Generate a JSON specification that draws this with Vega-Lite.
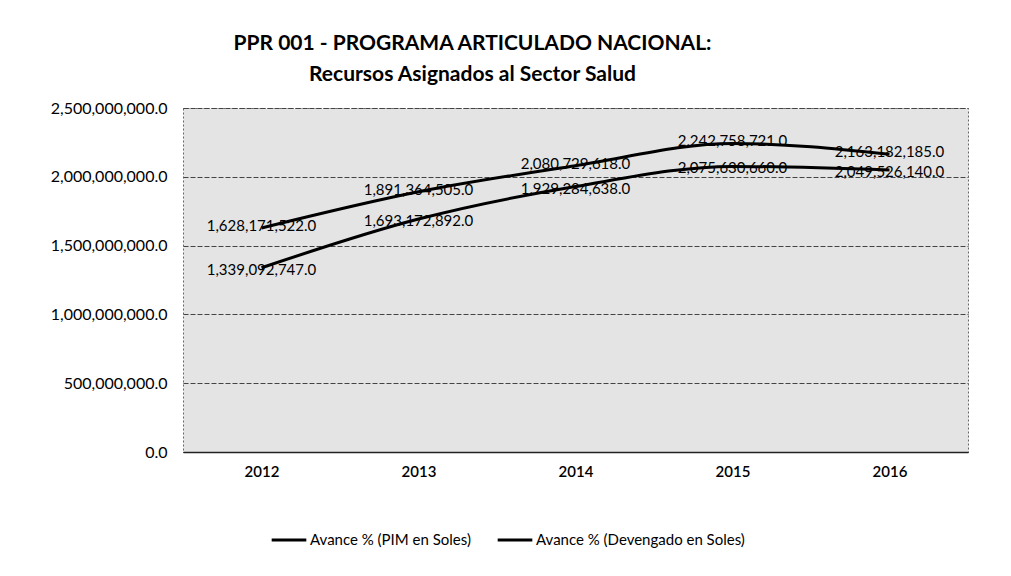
{
  "$schema": "https://vega.github.io/schema/vega-lite/v6.json",
  "width": 785,
  "height": 344,
  "autosize": {"type": "none"},
  "padding": {"left": 183, "top": 108, "right": 43, "bottom": 124},
  "background": "white",
  "title": {
    "text": ["PPR 001 - PROGRAMA ARTICULADO NACIONAL:", "Recursos Asignados al Sector Salud"],
    "font": "Lato",
    "fontSize": 21,
    "fontWeight": "bold",
    "color": "black",
    "anchor": "middle",
    "frame": "group",
    "dx": -103,
    "offset": 15,
    "lineHeight": 31
  },
  "config": {
    "view": {"fill": "#e4e4e4", "stroke": "#666", "strokeDash": [2, 2]},
    "font": "Lato"
  },
  "data": {
    "values": [
      {"year": "2012", "series": "Avance %  (PIM en Soles)", "value": 1628171522.0},
      {"year": "2013", "series": "Avance %  (PIM en Soles)", "value": 1891364505.0},
      {"year": "2014", "series": "Avance %  (PIM en Soles)", "value": 2080729618.0},
      {"year": "2015", "series": "Avance %  (PIM en Soles)", "value": 2242758721.0},
      {"year": "2016", "series": "Avance %  (PIM en Soles)", "value": 2163182185.0},
      {"year": "2012", "series": "Avance %  (Devengado en Soles)", "value": 1339092747.0},
      {"year": "2013", "series": "Avance %  (Devengado en Soles)", "value": 1693172892.0},
      {"year": "2014", "series": "Avance %  (Devengado en Soles)", "value": 1929284638.0},
      {"year": "2015", "series": "Avance %  (Devengado en Soles)", "value": 2075630660.0},
      {"year": "2016", "series": "Avance %  (Devengado en Soles)", "value": 2049526140.0}
    ]
  },
  "encoding": {
    "x": {
      "field": "year",
      "type": "ordinal",
      "scale": {"type": "point", "padding": 0.5},
      "axis": {
        "title": null,
        "labelAngle": 0,
        "labelFontSize": 15,
        "labelFontWeight": 600,
        "labelColor": "black",
        "labelPadding": 12,
        "ticks": false,
        "domain": true,
        "domainColor": "#222",
        "domainWidth": 1.5,
        "grid": false
      }
    },
    "y": {
      "field": "value",
      "type": "quantitative",
      "scale": {"domain": [0, 2500000000], "nice": false},
      "axis": {
        "title": null,
        "values": [0, 500000000, 1000000000, 1500000000, 2000000000, 2500000000],
        "format": ",.1f",
        "labelFontSize": 16,
        "labelColor": "black",
        "labelPadding": 16,
        "ticks": false,
        "domain": false,
        "grid": true,
        "gridColor": "#444",
        "gridDash": [5, 2],
        "gridWidth": 1
      }
    }
  },
  "layer": [
    {
      "mark": {"type": "line", "interpolate": "monotone", "strokeWidth": 3},
      "encoding": {
        "color": {
          "field": "series",
          "type": "nominal",
          "sort": ["Avance %  (PIM en Soles)", "Avance %  (Devengado en Soles)"],
          "scale": {"range": ["black", "black"]},
          "legend": {
            "title": null,
            "orient": "none",
            "direction": "horizontal",
            "legendX": 87,
            "legendY": 413,
            "symbolType": "stroke",
            "symbolSize": 1200,
            "symbolStrokeWidth": 3,
            "symbolStrokeColor": "black",
            "labelFontSize": 15,
            "labelColor": "black",
            "labelLimit": 400,
            "labelOffset": 2,
            "columnPadding": 16
          }
        }
      }
    },
    {
      "transform": [{"filter": "datum.series === 'Avance %  (PIM en Soles)'"}],
      "mark": {"type": "text", "fontSize": 15, "color": "black", "dy": -2},
      "encoding": {
        "text": {"field": "value", "type": "quantitative", "format": ",.1f"}
      }
    },
    {
      "transform": [{"filter": "datum.series === 'Avance %  (Devengado en Soles)'"}],
      "mark": {"type": "text", "fontSize": 15, "color": "black", "dy": 2},
      "encoding": {
        "text": {"field": "value", "type": "quantitative", "format": ",.1f"}
      }
    }
  ]
}
